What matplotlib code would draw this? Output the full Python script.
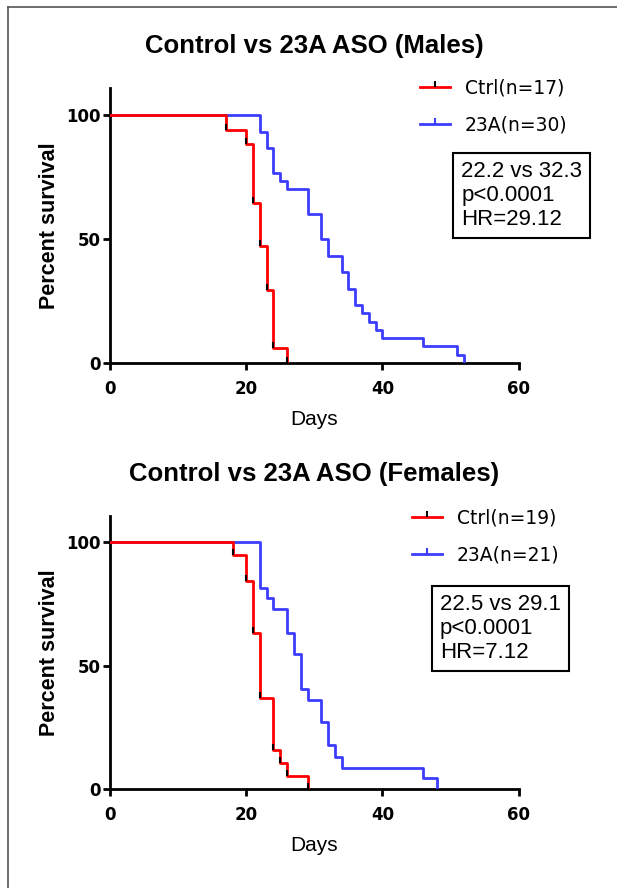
import matplotlib
matplotlib.use('Agg')
from matplotlib import pyplot as plt
from matplotlib.lines import Line2D

plt.rcParams['font.family'] = ['Liberation Sans', 'DejaVu Sans']

# Kaplan-Meier steps (day, percent survival)
maleCtrlDays = [0, 17, 20, 21, 22, 23, 24, 26]
maleCtrlSurv = [100, 94.1, 88.2, 64.7, 47.1, 29.4, 5.9, 0]
male23aDays = [0, 22, 23, 24, 25, 26, 29, 31, 32, 34, 35, 36, 37, 38, 39, 40, 46, 51, 52]
male23aSurv = [100, 93.3, 86.7, 76.7, 73.3, 70, 60, 50, 43.3, 36.7, 30, 23.3, 20, 16.7, 13.3, 10, 6.7, 3.3, 0]

femaleCtrlDays = [0, 18, 20, 21, 22, 24, 25, 26, 29]
femaleCtrlSurv = [100, 94.7, 84.2, 63.2, 36.8, 15.8, 10.5, 5.3, 0]
female23aDays = [0, 22, 23, 24, 26, 27, 28, 29, 31, 32, 33, 34, 46, 48]
female23aSurv = [100, 81.6, 77.3, 72.9, 63.4, 54.7, 40.5, 36.2, 27, 18, 12.8, 8.5, 4.3, 0]

titles = ['Control vs 23A ASO (Males)', 'Control vs 23A ASO (Females)']
ctrlLabels = ['Ctrl(n=17)', 'Ctrl(n=19)']
aLabels = ['23A(n=30)', '23A(n=21)']
statTexts = ['22.2 vs 32.3\np<0.0001\nHR=29.12', '22.5 vs 29.1\np<0.0001\nHR=7.12']
xTicks = [0, 20, 40, 60]
yTicks = [0, 50, 100]

RED = '#ff0000'
BLUE = '#3c3cff'

fig = plt.figure(figsize=(6.17, 8.88), dpi=100)

# frame lines on the left and top of the picture
fig.add_artist(Line2D([8 / 617, 8 / 617], [0, 1 - 7 / 888], color='#555555', lw=1.2))
fig.add_artist(Line2D([8 / 617, 1], [1 - 7 / 888, 1 - 7 / 888], color='#555555', lw=1.2))

axTop = fig.add_axes([110 / 617, 1 - 363 / 888, 408.7 / 617, 275 / 888])
axBot = fig.add_axes([110 / 617, 1 - 789 / 888, 408.7 / 617, 273 / 888])

panels = [
    (axTop, maleCtrlDays, maleCtrlSurv, male23aDays, male23aSurv, 110.9, (0.74, 1.063), (0.859, 0.735)),
    (axBot, femaleCtrlDays, femaleCtrlSurv, female23aDays, female23aSurv, 110.6, (0.72, 1.056), (0.807, 0.714)),
]

for i, (ax, cDays, cSurv, aDays, aSurv, yTop, legPos, boxPos) in enumerate(panels):
    ax.step(aDays, aSurv, where='post', color=BLUE, lw=2, zorder=3)
    ax.step(cDays, cSurv, where='post', color=RED, lw=2, zorder=4)
    # censor ticks on the control curve
    ax.plot(cDays[1:], cSurv[1:], ls='none', marker=2, ms=4, mew=1.5, color='black', zorder=5)

    ax.set_xlim(0, 60)
    ax.set_ylim(0, yTop)
    ax.set_xticks(xTicks)
    ax.set_yticks(yTicks)
    for side in ['top', 'right']:
        ax.spines[side].set_visible(False)
    for side in ['left', 'bottom']:
        ax.spines[side].set_linewidth(2)
    ax.tick_params(direction='out', length=5, width=2)
    ax.tick_params(axis='x', pad=7)
    ax.tick_params(axis='y', pad=1.5)
    for lbl in ax.get_xticklabels() + ax.get_yticklabels():
        lbl.set_fontfamily('DejaVu Sans')
        lbl.set_fontweight('bold')
        lbl.set_fontsize(12)
    ax.set_xlabel('Days', fontsize=15, labelpad=9)
    ax.set_ylabel('Percent survival', fontsize=15.5, fontweight='bold', labelpad=5)
    ax.set_title(titles[i], fontsize=18.5, fontweight='bold', pad=25)

    handles = [
        Line2D([0], [0], color=RED, lw=2, marker=2, ms=4, mew=1.5, mec='black'),
        Line2D([0], [0], color=BLUE, lw=2, marker=2, ms=4, mew=1.5, mec=BLUE),
    ]
    ax.legend(handles, [ctrlLabels[i], aLabels[i]], loc='upper left', bbox_to_anchor=legPos,
              frameon=False, prop={'family': 'DejaVu Sans', 'size': 13.5},
              handlelength=1.6, handletextpad=0.8, labelspacing=1.0,
              borderaxespad=0, numpoints=1)

    ax.text(boxPos[0], boxPos[1], statTexts[i], transform=ax.transAxes, fontsize=16,
            ha='left', va='top', linespacing=1.2,
            bbox=dict(boxstyle='square,pad=0.35', facecolor='white', edgecolor='black', lw=1.5))

fig.savefig('out.png', dpi=100)
